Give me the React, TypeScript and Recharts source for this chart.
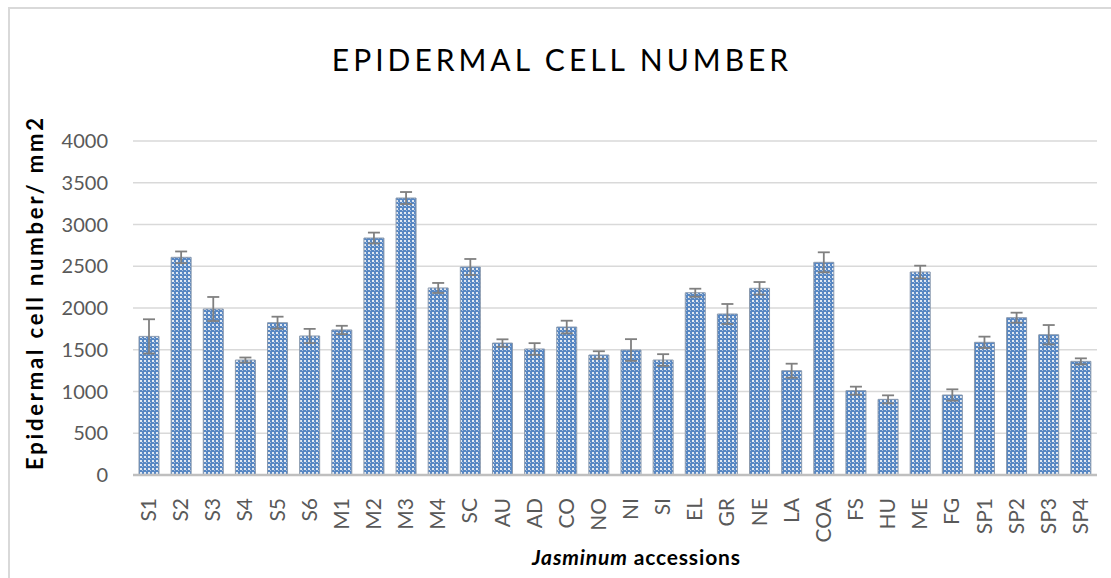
import { BarChart, Bar, XAxis, YAxis, CartesianGrid, ErrorBar, Label } from "recharts";

const accessions = ["S1", "S2", "S3", "S4", "S5", "S6", "M1", "M2", "M3", "M4", "SC", "AU", "AD", "CO", "NO", "NI", "SI", "EL", "GR", "NE", "LA", "COA", "FS", "HU", "ME", "FG", "SP1", "SP2", "SP3", "SP4"];
const cellNumber = [1660, 2607, 1988, 1377, 1824, 1665, 1737, 2838, 3317, 2240, 2491, 1580, 1509, 1772, 1437, 1497, 1377, 2183, 1928, 2236, 1249, 2547, 1010, 906, 2431, 958, 1589, 1884, 1680, 1361];
const cellError = [205, 70, 144, 30, 72, 85, 50, 65, 72, 60, 96, 45, 70, 76, 45, 130, 70, 48, 120, 75, 84, 120, 48, 48, 76, 68, 68, 60, 116, 36];
const yTicks = [0, 500, 1000, 1500, 2000, 2500, 3000, 3500, 4000];

const data = accessions.map((name, i) => ({ name, value: cellNumber[i], err: cellError[i] }));

const FONT = "Lato, 'Noto Sans', sans-serif";

function XTick({ x, y, payload }: any) {
  return (
    <text
      x={x + 7}
      y={y + 15}
      textAnchor="end"
      transform={`rotate(-90, ${x + 7}, ${y + 15})`}
      fill="#595959"
      fontSize={21}
      fontFamily={FONT}
    >
      {payload.value}
    </text>
  );
}

function YTick({ y, payload }: any) {
  return (
    <text x={108} y={y + 7} textAnchor="end" fill="#595959" fontSize={20} fontFamily={FONT}>
      {payload.value}
    </text>
  );
}

export default function App() {
  return (
    <div style={{ position: "fixed", left: 0, top: 0, width: 1111, height: 578, background: "#fff" }}>
      <div
        style={{
          position: "absolute",
          left: 8,
          top: 7,
          width: 1110,
          height: 580,
          borderTop: "2px solid #d9d9d9",
          borderLeft: "2px solid #d9d9d9",
        }}
      />
      <div
        style={{
          position: "absolute",
          left: 0,
          top: 41,
          width: 1124,
          textAlign: "center",
          fontFamily: FONT,
          fontSize: 30,
          fontWeight: 400,
          letterSpacing: 4,
          color: "#000",
        }}
      >
        EPIDERMAL CELL NUMBER
      </div>
      <div style={{ position: "absolute", left: 0, top: 0 }}>
        <BarChart width={1111} height={578} data={data} margin={{ top: 141, right: 14, bottom: 0, left: 0 }}>
          <defs>
            <pattern id="check" width="4" height="4" patternUnits="userSpaceOnUse">
              <rect width="4" height="4" fill="#5787c3" />
              <rect x="0" y="0" width="2" height="2" fill="#e2e9f2" />
              <rect x="2" y="2" width="1" height="1" fill="#a9c0dd" />
            </pattern>
          </defs>
          <CartesianGrid vertical={false} stroke="#d9d9d9" strokeWidth={1.5} />
          <XAxis
            dataKey="name"
            interval={0}
            height={103}
            tickLine={false}
            axisLine={{ stroke: "#bfbfbf", strokeWidth: 2.5 }}
            tick={<XTick />}
          >
            <Label
              content={() => (
                <text
                  x={636}
                  y={565}
                  textAnchor="middle"
                  textLength={208}
                  fontFamily={FONT}
                  fontSize={21}
                  fontWeight="bold"
                  fill="#000"
                >
                  <tspan fontStyle="italic">Jasminum</tspan> accessions
                </text>
              )}
            />
          </XAxis>
          <YAxis
            width={133}
            domain={[0, 4000]}
            ticks={yTicks}
            axisLine={false}
            tickLine={false}
            tick={<YTick />}
          >
            <Label
              content={() => (
                <text
                  x={43}
                  y={294}
                  textAnchor="middle"
                  textLength={352}
                  transform="rotate(-90, 43, 294)"
                  fontFamily={FONT}
                  fontSize={22}
                  fontWeight="bold"
                  fill="#000"
                >
                  Epidermal cell number/ mm2
                </text>
              )}
            />
          </YAxis>
          <Bar dataKey="value" fill="url(#check)" stroke="#8a99ad" strokeWidth={1} barSize={20} isAnimationActive={false}>
            <ErrorBar dataKey="err" direction="y" width={6} stroke="#808080" strokeWidth={1.8} />
          </Bar>
        </BarChart>
      </div>
    </div>
  );
}
